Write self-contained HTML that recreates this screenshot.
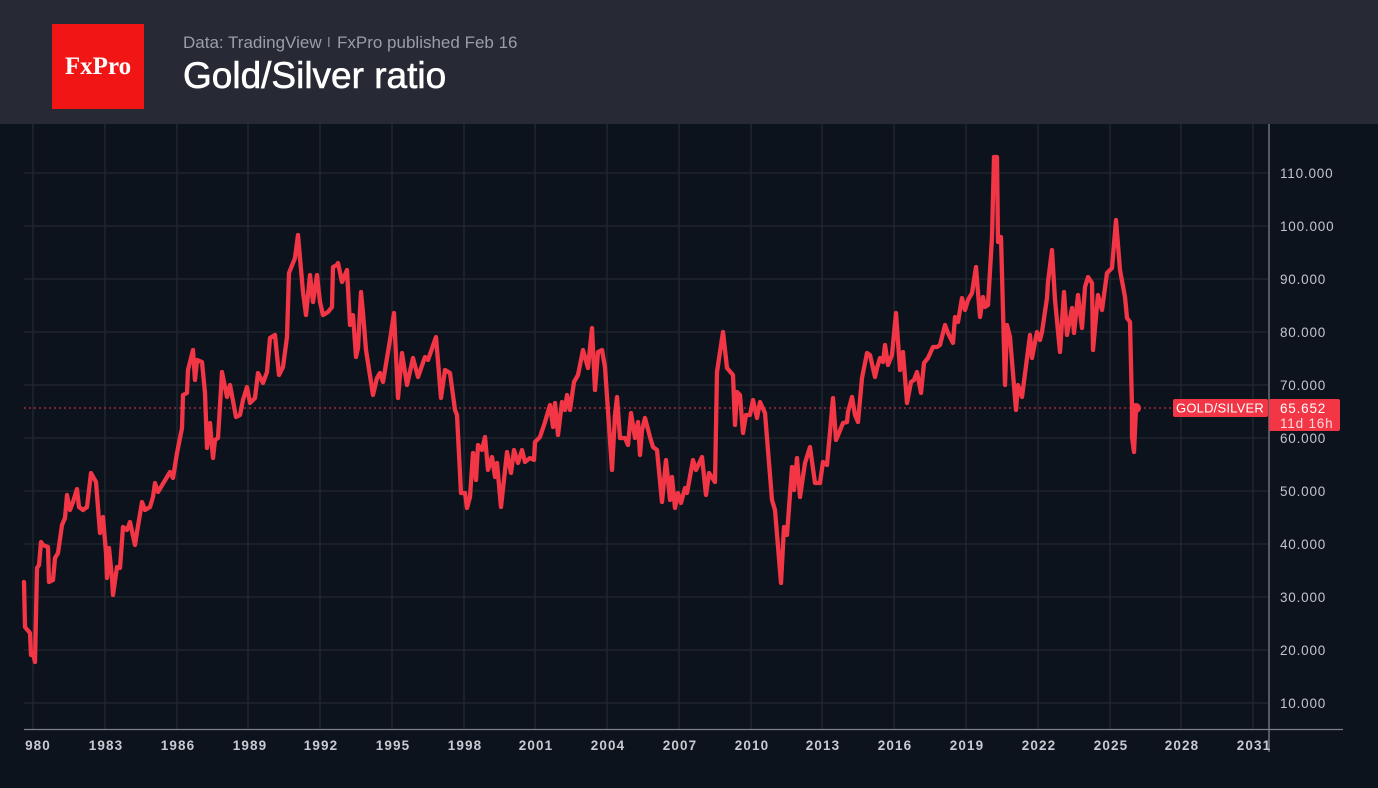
<!DOCTYPE html>
<html><head><meta charset="utf-8"><style>
html,body{margin:0;padding:0;background:#0d131d;}
svg{display:block;}
</style></head><body>
<svg width="1378" height="788" viewBox="0 0 1378 788" xmlns="http://www.w3.org/2000/svg">
<rect x="0" y="0" width="1378" height="788" fill="#0d131d"/>
<rect x="0" y="0" width="1378" height="124" fill="#272a34"/>
<rect x="52" y="24" width="92" height="85" fill="#f21515"/>
<text x="98" y="74" text-anchor="middle" font-family="Liberation Serif, serif" font-size="25" font-weight="bold" fill="#ffffff">FxPro</text>
<text x="183" y="48" font-family="Liberation Sans, sans-serif" font-size="17" fill="#9b9ea6">Data: TradingView</text>
<rect x="328" y="37" width="1.5" height="10" fill="#7d8088"/>
<text x="337" y="48" font-family="Liberation Sans, sans-serif" font-size="17" fill="#9b9ea6">FxPro published Feb 16</text>
<text x="183" y="88" font-family="Liberation Sans, sans-serif" font-size="37" fill="#ffffff" stroke="#ffffff" stroke-width="0.6">Gold/Silver ratio</text>

<g stroke="#232730" stroke-width="1.3">
<line x1="24" y1="173" x2="1268" y2="173"/>
<line x1="24" y1="226" x2="1268" y2="226"/>
<line x1="24" y1="279" x2="1268" y2="279"/>
<line x1="24" y1="332" x2="1268" y2="332"/>
<line x1="24" y1="385" x2="1268" y2="385"/>
<line x1="24" y1="438" x2="1268" y2="438"/>
<line x1="24" y1="491" x2="1268" y2="491"/>
<line x1="24" y1="544" x2="1268" y2="544"/>
<line x1="24" y1="597" x2="1268" y2="597"/>
<line x1="24" y1="650" x2="1268" y2="650"/>
<line x1="24" y1="703" x2="1268" y2="703"/>
<line x1="33" y1="124" x2="33" y2="729"/>
<line x1="105" y1="124" x2="105" y2="729"/>
<line x1="177" y1="124" x2="177" y2="729"/>
<line x1="248" y1="124" x2="248" y2="729"/>
<line x1="320" y1="124" x2="320" y2="729"/>
<line x1="392" y1="124" x2="392" y2="729"/>
<line x1="464" y1="124" x2="464" y2="729"/>
<line x1="535" y1="124" x2="535" y2="729"/>
<line x1="607" y1="124" x2="607" y2="729"/>
<line x1="679" y1="124" x2="679" y2="729"/>
<line x1="751" y1="124" x2="751" y2="729"/>
<line x1="822" y1="124" x2="822" y2="729"/>
<line x1="894" y1="124" x2="894" y2="729"/>
<line x1="966" y1="124" x2="966" y2="729"/>
<line x1="1038" y1="124" x2="1038" y2="729"/>
<line x1="1110" y1="124" x2="1110" y2="729"/>
<line x1="1181" y1="124" x2="1181" y2="729"/>
<line x1="1253" y1="124" x2="1253" y2="729"/>
</g>

<line x1="24" y1="408" x2="1172" y2="408" stroke="#9b2a36" stroke-width="1.5" stroke-dasharray="2,3"/>

<polyline fill="none" stroke="#f23645" stroke-width="4.3" stroke-linejoin="round" stroke-linecap="round" points="
24,582 25,627 30,633 31,655 33,653 35,662 37,568 39,565 41,542 43,545 48,547 49,582 53,580 55,558 58,553 62,525 65,518 67,495 70,510 73,502 77,489 79,507 83,510 87,507 91,473 96,482 100,533 103,517 106,553 107,578 109,548 112,578 113,595 117,567 120,568 123,527 127,530 130,522 135,545 137,532 142,502 145,510 150,507 153,497 155,483 158,492 167,477 170,472 173,478 177,453 182,428 183,395 187,393 188,370 193,350 195,380 197,360 202,362 205,393 207,448 210,423 213,458 215,440 218,438 222,372 227,397 230,385 236,417 240,415 243,400 247,387 250,403 255,398 258,373 263,383 267,372 270,338 275,335 279,375 283,367 287,337 289,273 295,258 298,235 300,258 303,292 306,315 310,275 313,302 317,275 320,302 323,315 328,312 332,307 333,267 337,265 338,263 342,282 347,270 350,325 353,315 356,357 358,348 361,292 363,313 366,350 373,395 377,378 380,373 383,382 390,340 394,313 398,398 402,353 407,385 413,358 418,377 425,357 428,360 436,337 441,398 445,370 450,373 455,410 457,415 461,493 465,493 467,508 470,497 473,453 476,480 478,445 482,450 485,437 488,470 492,457 495,477 497,463 501,507 507,452 511,473 514,450 518,463 522,450 525,462 530,458 534,460 535,442 540,437 545,422 550,405 553,427 555,403 558,435 562,402 565,410 567,395 570,410 574,382 578,375 583,350 588,368 592,328 595,390 598,352 602,350 605,367 612,470 615,415 617,397 620,438 625,438 628,445 631,413 635,438 638,422 640,455 642,430 645,418 650,437 653,447 657,450 662,502 666,460 670,500 672,477 675,508 678,493 681,503 685,488 687,493 693,460 696,470 702,457 706,495 709,473 715,482 717,372 723,332 727,368 733,375 735,425 737,392 740,395 743,433 746,415 750,415 753,400 757,418 760,402 765,413 772,500 775,510 781,583 784,527 787,535 792,467 794,490 797,458 800,497 805,463 810,447 815,483 820,483 823,462 827,465 830,432 833,398 836,440 839,433 843,423 847,422 848,412 852,397 855,415 858,422 862,378 867,353 870,355 875,377 877,368 880,358 883,362 885,345 888,365 892,355 896,313 900,370 903,352 907,403 911,382 914,380 917,372 921,393 924,363 928,358 933,347 937,347 940,345 945,325 948,333 953,343 955,317 958,322 962,298 965,310 968,300 972,293 976,267 980,317 983,297 985,307 988,305 992,237 994,157 997,157 998,242 1001,237 1005,385 1007,325 1010,337 1016,410 1018,385 1022,397 1030,335 1032,358 1037,332 1040,340 1042,332 1047,298 1048,282 1052,250 1055,300 1060,352 1064,292 1067,335 1072,308 1074,333 1078,295 1082,328 1085,287 1088,277 1092,283 1093,350 1098,295 1102,310 1107,273 1112,268 1116,220 1120,270 1125,297 1127,318 1130,322 1132,407 1132,437 1134,452 1136,408 1138,408"/>
<circle cx="1136" cy="408" r="5" fill="#f23645"/>

<line x1="1269" y1="124" x2="1269" y2="752" stroke="#7c7f88" stroke-width="1.3"/>
<line x1="24" y1="729.5" x2="1343" y2="729.5" stroke="#7c7f88" stroke-width="1.3"/>

<g font-family="Liberation Sans, sans-serif" font-size="13.5" letter-spacing="0.8" fill="#c3c5cb">
<text x="1280" y="178">110.000</text>
<text x="1280" y="231">100.000</text>
<text x="1280" y="284">90.000</text>
<text x="1280" y="337">80.000</text>
<text x="1280" y="390">70.000</text>
<text x="1280" y="443">60.000</text>
<text x="1280" y="496">50.000</text>
<text x="1280" y="549">40.000</text>
<text x="1280" y="602">30.000</text>
<text x="1280" y="655">20.000</text>
<text x="1280" y="708">10.000</text>
</g>

<g font-family="Liberation Sans, sans-serif" font-size="13.5" font-weight="bold" letter-spacing="1.1" fill="#c8cad0" text-anchor="middle">
<text x="38" y="750">980</text>
<text x="106" y="750">1983</text>
<text x="178" y="750">1986</text>
<text x="250" y="750">1989</text>
<text x="321" y="750">1992</text>
<text x="393" y="750">1995</text>
<text x="465" y="750">1998</text>
<text x="536" y="750">2001</text>
<text x="608" y="750">2004</text>
<text x="680" y="750">2007</text>
<text x="752" y="750">2010</text>
<text x="823" y="750">2013</text>
<text x="895" y="750">2016</text>
<text x="967" y="750">2019</text>
<text x="1039" y="750">2022</text>
<text x="1111" y="750">2025</text>
<text x="1182" y="750">2028</text>
<text x="1254" y="750">2031</text>
</g>

<rect x="1173" y="399" width="95" height="18" rx="2" fill="#f23645"/>
<text x="1220" y="412.5" text-anchor="middle" font-family="Liberation Sans, sans-serif" font-size="13" letter-spacing="0.2" fill="#ffffff">GOLD/SILVER</text>
<rect x="1269" y="399" width="71" height="32" rx="2" fill="#f23645"/>
<text x="1280" y="413" font-family="Liberation Sans, sans-serif" font-size="13.5" letter-spacing="0.8" fill="#ffffff">65.652</text>
<text x="1280" y="428" font-family="Liberation Sans, sans-serif" font-size="13.5" letter-spacing="0.8" fill="#fcd9dc">11d 16h</text>
</svg>
</body></html>
